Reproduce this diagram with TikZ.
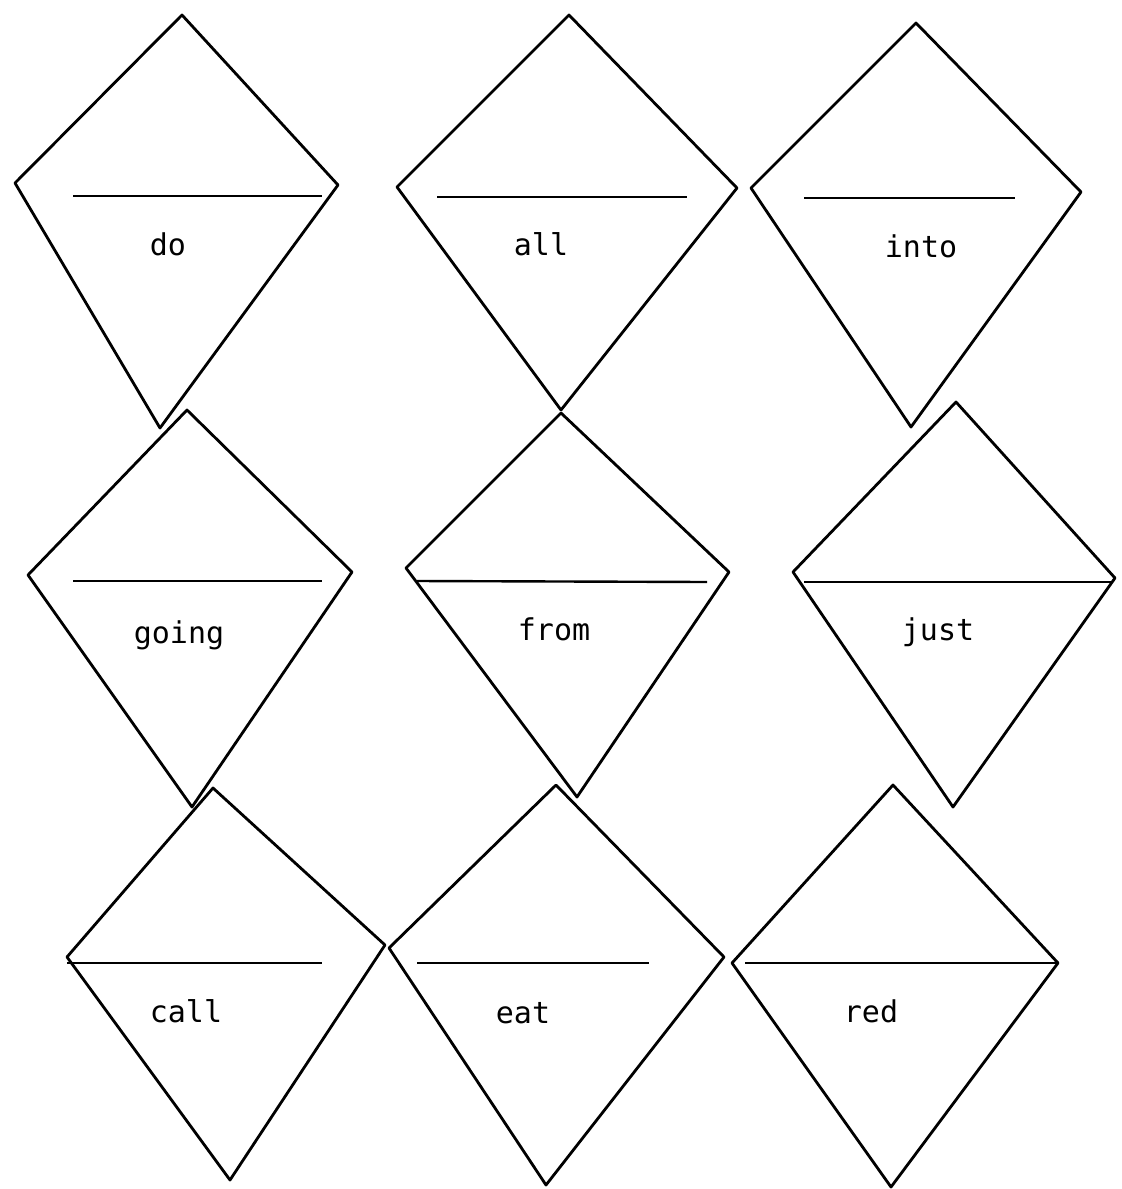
\documentclass[tikz,border=0pt]{standalone}
\usepackage{fontspec}
\newfontfamily\dotfont{DejaVu Sans Mono}
\newcommand\mykite[9]{%
  \coordinate (#1T) at (#2);
  \coordinate (#1R) at (#3);
  \coordinate (#1B) at (#4);
  \coordinate (#1L) at (#5);
  \coordinate (#1A) at (#6);
  \coordinate (#1Z) at (#7);
  \draw[kite] (#1T) -- (#1R) -- (#1B) -- (#1L) -- cycle;
  \draw[rule] (#1A) -- (#1Z);
  \node[word] (#1W) at (#8) {#9};
}
\begin{document}
\begin{tikzpicture}[x=0.5pt,y=-0.5pt,
  kite/.style={draw=black,line width=1.4pt,line join=round},
  rule/.style={draw=black,line width=1.2pt},
  word/.style={font=\dotfont\fontsize{15}{15}\selectfont,inner sep=0pt,anchor=base}]
\fill[white] (0,0) rectangle (1122,1189);
\useasboundingbox (0,0) rectangle (1122,1189);
% top row
\mykite{do}{182,15}{338,185}{160,428}{15,183}{73,196}{322,196}{168,255}{do}
\mykite{all}{569,15}{737,188}{561,410}{397,187}{437,197}{687,197}{541,255}{all}
\mykite{into}{916,23}{1081,192}{911,427}{751,188}{804,198}{1015,198}{921,257}{into}
% middle row
\mykite{going}{187,410}{352,572}{192,807}{28,575}{73,581}{322,581}{179,643}{going}
\mykite{from}{561,413}{729,572}{577,797}{406,568}{417,581}{707,582}{554,640}{from}
\mykite{just}{956,402}{1115,578}{953,807}{793,572}{804,582}{1111,582}{938,640}{just}
% bottom row
\mykite{call}{213,788}{385,945}{230,1180}{67,957}{67,963}{322,963}{186,1022}{call}
\mykite{eat}{556,785}{724,957}{546,1185}{389,948}{417,963}{649,963}{523,1023}{eat}
\mykite{red}{893,785}{1058,963}{891,1187}{732,963}{745,963}{1058,963}{871,1022}{red}
\end{tikzpicture}
\end{document}
